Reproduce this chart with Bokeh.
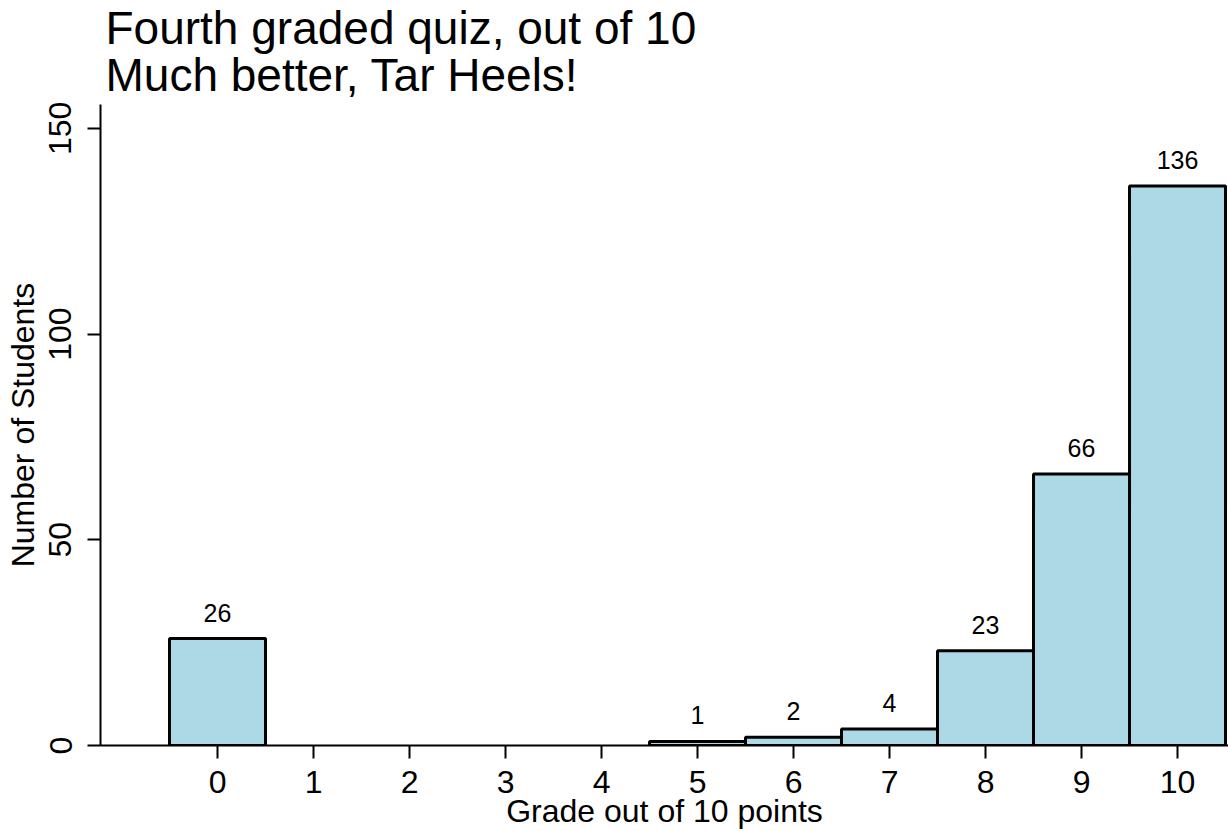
from bokeh.plotting import figure
from bokeh.models import Title, FixedTicker, Range1d, ColumnDataSource
from bokeh.core.properties import value
from bokeh.embed import file_html
from bokeh.resources import INLINE

grades = [0, 1, 2, 3, 4, 5, 6, 7, 8, 9, 10]
counts = [26, 0, 0, 0, 0, 1, 2, 4, 23, 66, 136]
x_ticks = [0, 1, 2, 3, 4, 5, 6, 7, 8, 9, 10]
y_ticks = [0, 50, 100, 150]
title_line1 = "Fourth graded quiz, out of 10"
title_line2 = "Much better, Tar Heels!"
x_label = "Grade out of 10 points"
y_label = "Number of Students"

FONT = "Liberation Sans"

nz = [(g, c) for g, c in zip(grades, counts) if c > 0]
src = ColumnDataSource(dict(
    x=[g for g, c in nz],
    top=[c for g, c in nz],
    label=[str(c) for g, c in nz],
))

p = figure(width=1228, height=831, output_backend="svg", toolbar_location=None,
           x_range=Range1d(-1.219, 10.531), y_range=Range1d(0, 155.8),
           min_border_left=100, min_border_right=0, min_border_top=103, min_border_bottom=0)
p.background_fill_color = "white"
p.border_fill_color = "white"
p.outline_line_color = None
p.grid.visible = False

p.vbar(x="x", top="top", bottom=0, width=1, source=src,
       fill_color="#ADD8E6", line_color="black", line_width=3)
p.text(x="x", y="top", text="label", source=src, y_offset=-26,
       text_align="center", text_baseline="alphabetic",
       text_font_size="25px", text_color="black", text_font=value(FONT))

for ax in (p.xaxis[0], p.yaxis[0]):
    ax.axis_line_color = "black"
    ax.axis_line_width = 2
    ax.major_tick_line_color = "black"
    ax.major_tick_line_width = 2
    ax.major_tick_in = 0
    ax.major_tick_out = 13
    ax.minor_tick_line_color = None
    ax.major_label_text_font = FONT
    ax.major_label_text_font_size = "32px"
    ax.major_label_text_color = "black"
    ax.axis_label_text_font = FONT
    ax.axis_label_text_font_size = "32px"
    ax.axis_label_text_font_style = "normal"
    ax.axis_label_text_color = "black"

p.xaxis[0].ticker = FixedTicker(ticks=x_ticks)
p.yaxis[0].ticker = FixedTicker(ticks=y_ticks)
p.xaxis[0].axis_label = x_label
p.yaxis[0].axis_label = y_label
p.xaxis[0].major_label_standoff = 12
p.xaxis[0].axis_label_standoff = -3
p.yaxis[0].major_label_orientation = "vertical"
p.yaxis[0].major_label_standoff = 16
p.yaxis[0].axis_label_standoff = 6

title = Title(text=title_line1 + "\n" + title_line2, align="left", vertical_align="top",
              text_font=FONT, text_font_size="46px", text_font_style="normal",
              text_color="black", text_line_height=0.9, standoff=3, offset=5)
p.add_layout(title, "above")

open("out.html", "w").write(file_html(p, INLINE))
